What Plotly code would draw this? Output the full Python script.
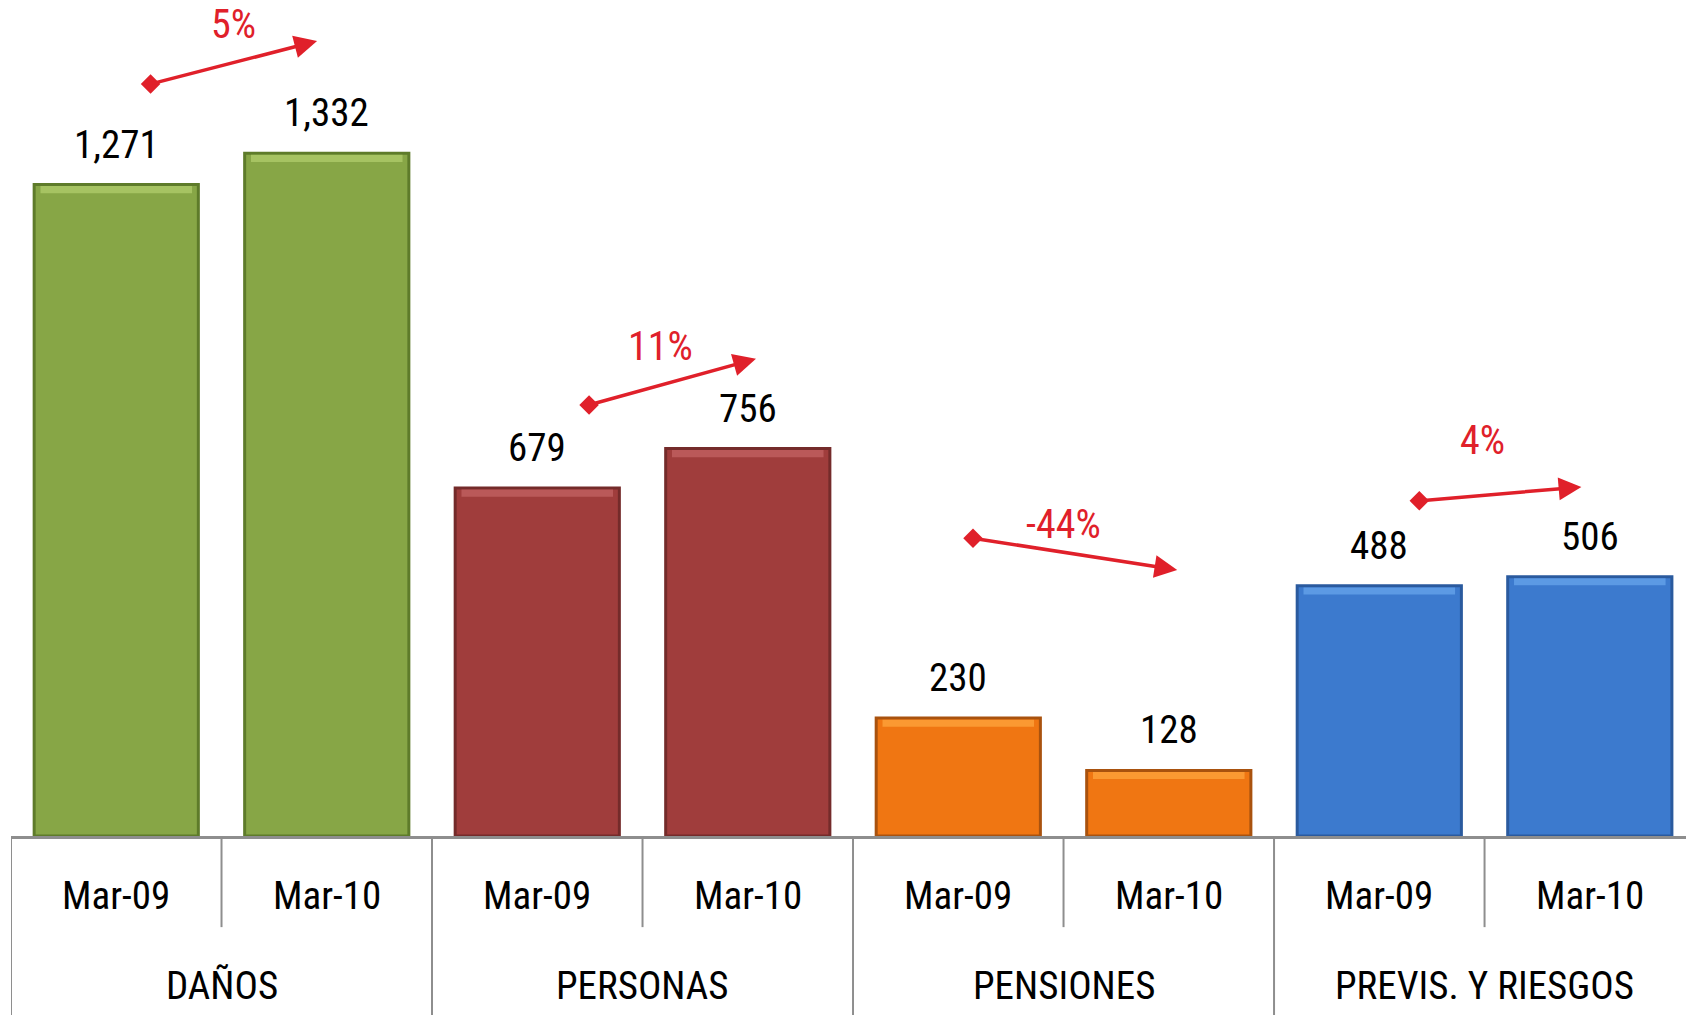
import plotly.graph_objects as go

# datos
grupos = ["DAÑOS", "PERSONAS", "PENSIONES", "PREVIS. Y RIESGOS"]
periodos = ["Mar-09", "Mar-10"]
valores_mar09 = [1271, 679, 230, 488]
valores_mar10 = [1332, 756, 128, 506]
variacion = ["5%", "11%", "-44%", "4%"]

# flechas de variacion (altura en unidades del eje y)
flecha_y_inicio = [1467, 841, 581, 654]
flecha_y_fin = [1551, 931, 519, 681]

colores = ["#87A646", "#A03D3C", "#F07612", "#3C7ACE"]
brillo = ["#B4D06E", "#C46565", "#FFA840", "#6AA8EE"]
bordes = ["#5E7B2A", "#742B2A", "#A9520E", "#2A5A9E"]
rojo = "#E0202A"
gris = "#8E8E8E"
fuente = "Roboto Condensed, Liberation Sans Narrow, sans-serif"

x_pos = list(range(len(grupos) * 2))
valores = []
fill = []
line = []
luz = []
for i in range(len(grupos)):
    valores += [valores_mar09[i], valores_mar10[i]]
    fill += [colores[i]] * 2
    line += [bordes[i]] * 2
    luz += [brillo[i]] * 2

fig = go.Figure()

fig.add_trace(go.Bar(
    x=x_pos, y=valores, width=0.78,
    marker=dict(color=fill, line=dict(color=line, width=3)),
    showlegend=False, hoverinfo="y"
))

# franja de brillo superior (efecto biselado)
franja = 14
fig.add_trace(go.Bar(
    x=x_pos, y=[franja] * len(valores), base=[v - franja - 3 for v in valores], width=0.72,
    marker=dict(color=luz, line=dict(width=0), opacity=0.7),
    showlegend=False, hoverinfo="skip"
))

anots = []
shapes = []

# etiquetas de valor sobre las barras
for xi, v in zip(x_pos, valores):
    anots.append(dict(x=xi, y=v, xref="x", yref="y", text=f"{v:,}", showarrow=False,
                      yanchor="bottom", yshift=15, font=dict(size=39, color="black")))

# eje de categorias (dos niveles)
for xi in x_pos:
    anots.append(dict(x=xi, y=-0.072, xref="x", yref="paper", text=periodos[xi % 2], showarrow=False,
                      yanchor="middle", font=dict(size=39, color="black")))
    if xi % 2 == 0:
        shapes.append(dict(type="line", xref="x", yref="paper", x0=xi - 0.5, x1=xi - 0.5,
                           y0=0, y1=-0.22, line=dict(color=gris, width=2)))
    else:
        shapes.append(dict(type="line", xref="x", yref="paper", x0=xi - 0.5, x1=xi - 0.5,
                           y0=0, y1=-0.109, line=dict(color=gris, width=2)))

for i, g in enumerate(grupos):
    anots.append(dict(x=2 * i + 0.5, y=-0.179, xref="x", yref="paper", text=g, showarrow=False,
                      yanchor="middle", font=dict(size=39, color="black")))

# flechas de variacion
desfase_x0 = [0.163, 0.246, 0.07, 0.19]
desfase_x1 = [0.954, 1.039, 1.04, 0.96]
subida = [38, 35, 30, 53]
lateral = [0, -12, -12, -18]
dx_ini = []
dy_ini = []
for i in range(len(grupos)):
    x0 = 2 * i + desfase_x0[i]
    x1 = 2 * i + desfase_x1[i]
    y0 = flecha_y_inicio[i]
    y1 = flecha_y_fin[i]
    dx_ini.append(x0)
    dy_ini.append(y0)
    anots.append(dict(x=x1, y=y1, ax=x0, ay=y0, xref="x", yref="y", axref="x", ayref="y",
                      text="", showarrow=True, arrowhead=2, arrowsize=1.3, arrowwidth=3.5,
                      arrowcolor=rojo, standoff=0, startstandoff=0))
    anots.append(dict(x=(x0 + x1) / 2, y=(y0 + y1) / 2, xref="x", yref="y", text=variacion[i],
                      showarrow=False, yanchor="middle", yshift=subida[i], xshift=lateral[i],
                      font=dict(size=40, color=rojo)))

fig.add_trace(go.Scatter(
    x=dx_ini, y=dy_ini, mode="markers",
    marker=dict(symbol="diamond", size=15, color=rojo),
    showlegend=False, hoverinfo="skip"
))

fig.update_layout(
    width=1686, height=1015,
    margin=dict(l=11, r=0, t=0, b=179),
    plot_bgcolor="white", paper_bgcolor="white",
    font=dict(family=fuente),
    annotations=anots, shapes=shapes,
    barmode="overlay",
)
fig.update_xaxes(range=[-0.5, 7.457], showticklabels=False, showgrid=False, zeroline=False,
                 showline=True, linecolor=gris, linewidth=3, ticks="")
fig.update_yaxes(range=[0, 1631], visible=False, showgrid=False, zeroline=False)

fig.write_html("out.html", post_script="document.body.style.margin='0';",
               config={"displayModeBar": False})
